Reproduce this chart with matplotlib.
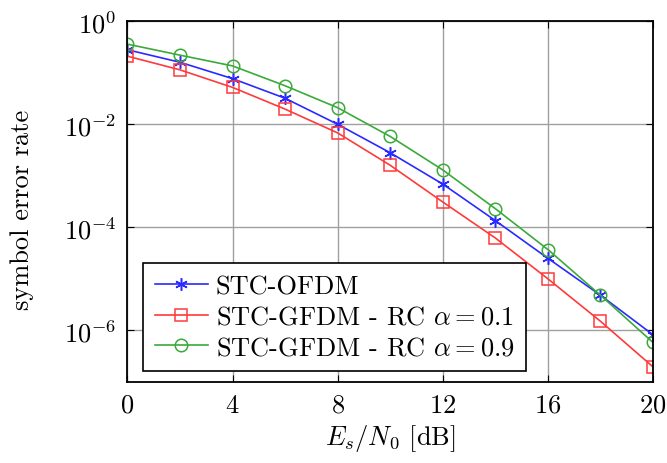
import matplotlib
matplotlib.use("Agg")
import matplotlib.pyplot as plt
from matplotlib.ticker import FixedLocator, NullLocator

plt.rcParams["font.family"] = ["cmr10", "DejaVu Serif"]
plt.rcParams["mathtext.fontset"] = "cm"
plt.rcParams["axes.formatter.use_mathtext"] = True

# Es/N0 in dB
snr = [0, 2, 4, 6, 8, 10, 12, 14, 16, 18, 20]

ser_ofdm = [0.28, 0.16, 0.077, 0.032, 0.010, 0.0028, 6.9e-4, 1.35e-4, 2.5e-5, 4.8e-6, 8.2e-7]
ser_gfdm_01 = [0.21, 0.114, 0.052, 0.0197, 0.0068, 0.0016, 3.1e-4, 6.2e-5, 1.0e-5, 1.5e-6, 1.95e-7]
ser_gfdm_09 = [0.36, 0.22, 0.136, 0.056, 0.021, 0.0058, 0.0013, 2.3e-4, 3.7e-5, 4.8e-6, 5.8e-7]

labels = ["STC-OFDM", r"STC-GFDM - RC $\alpha = 0.1$", r"STC-GFDM - RC $\alpha = 0.9$"]

fs = 19

fig = plt.figure(figsize=(6.67, 4.64), dpi=100)
ax = fig.add_axes([0.191, 0.175, 0.788, 0.777])

ax.plot(snr, ser_ofdm, color="#2a2aff", lw=1.2, marker=(6, 2, 0), ms=9,
        mew=1.1, label=labels[0])
ax.plot(snr, ser_gfdm_01, color="#ff3a3a", lw=1.2, marker="s", ms=9,
        mfc="none", mew=1.1, label=labels[1])
ax.plot(snr, ser_gfdm_09, color="#3aaa3a", lw=1.2, marker="o", ms=9,
        mfc="none", mew=1.1, label=labels[2])

ax.set_yscale("log")
ax.set_xlim(0, 20)
ax.set_ylim(1e-7, 1e0)
ax.set_xticks([0, 4, 8, 12, 16, 20])
ax.yaxis.set_major_locator(FixedLocator([1e0, 1e-2, 1e-4, 1e-6]))
ax.yaxis.set_minor_locator(NullLocator())
ax.tick_params(direction="in", labelsize=fs, length=5, top=True, right=True, pad=8)
ax.grid(True, color="#a0a0a0", lw=1.0)
for s in ax.spines.values():
    s.set_linewidth(1.3)

ax.set_xlabel(r"$E_s/N_0$ [dB]", fontsize=fs)
ax.set_ylabel("symbol error rate", fontsize=fs)
ax.yaxis.set_label_coords(-0.178, 0.48)

leg = ax.legend(loc="lower left", bbox_to_anchor=(0.03, 0.03), fontsize=fs,
                fancybox=False, edgecolor="black", framealpha=1,
                handlelength=2.0, handletextpad=0.3, labelspacing=0.25,
                borderpad=0.45, borderaxespad=0)
leg.get_frame().set_linewidth(1.2)

fig.savefig("out.png", dpi=100)
